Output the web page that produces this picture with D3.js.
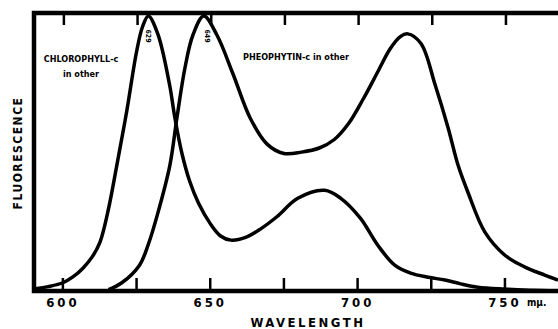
<!DOCTYPE html>
<html>
<head>
<meta charset="utf-8">
<script src="https://cdn.jsdelivr.net/npm/d3@7"></script>
<style>
  html, body { margin: 0; padding: 0; background: #fff; }
  svg text { font-family: "DejaVu Sans Condensed", "DejaVu Sans", sans-serif; font-weight: bold; fill: #000; }
</style>
</head>
<body>
<div class="chart"></div>
<script>
// wavelength (nm) and relative fluorescence
const chloroWl  = [590.5, 595, 600, 603.5, 606.8, 610, 612.6, 615.5, 618.3, 621.7, 625, 627, 629, 632.2, 636.2, 638, 640.4, 643, 646, 650, 653.5, 657, 662, 667, 672.6, 679.7, 688.8, 694.3, 701, 706.8, 712.6, 718, 724, 729.6, 735, 740.8, 750, 758, 768];
const chloroVal = [0.008, 0.016, 0.03, 0.052, 0.083, 0.125, 0.178, 0.3, 0.457, 0.656, 0.87, 0.96, 1.0, 0.935, 0.75, 0.63, 0.5, 0.4, 0.32, 0.245, 0.2, 0.185, 0.195, 0.225, 0.27, 0.337, 0.366, 0.337, 0.264, 0.167, 0.094, 0.065, 0.05, 0.04, 0.026, 0.014, 0.007, 0.003, 0.0];

const pheoWl  = [615.5, 620, 626, 629, 632, 636.3, 638.7, 641.4, 644.1, 647.8, 652.3, 657.7, 663.5, 669.2, 675, 681, 687, 692, 697, 702, 707, 711, 714.5, 717, 721.5, 726.3, 730.7, 734.1, 737.4, 743.2, 750, 756.8, 763.5, 768];
const pheoVal = [0.005, 0.03, 0.094, 0.17, 0.275, 0.457, 0.63, 0.81, 0.93, 1.0, 0.93, 0.79, 0.63, 0.535, 0.5, 0.505, 0.52, 0.55, 0.61, 0.7, 0.8, 0.88, 0.925, 0.935, 0.9, 0.75, 0.594, 0.457, 0.36, 0.214, 0.13, 0.087, 0.058, 0.04];

const tickWl = [600, 625, 650, 675, 700, 725, 750];
const tickLabels = {600: "600", 650: "650", 700: "700", 750: "750"};

const width = 558, height = 329;
const margin = {top: 13, right: 0, bottom: 38, left: 34};

const svg = d3.select(".chart")
  .append("svg")
    .attr("width", width)
    .attr("height", height);

const x = d3.scaleLinear()
    .domain([590.2, 768])
    .range([margin.left, width - margin.right]);

const y = d3.scaleLinear()
    .domain([0, 1])
    .range([height - margin.bottom, 16]);

const y0 = height - margin.bottom;

// frame: left, top and bottom (right is cut off)
svg.append("path")
    .attr("d", `M${width},${margin.top}H${margin.left}V${y0}H${width}`)
    .attr("fill", "none")
    .attr("stroke", "#000")
    .attr("stroke-width", 4.5);

// ticks
svg.selectAll(".btick")
  .data(tickWl)
  .enter()
  .append("line")
    .attr("class", "btick")
    .attr("x1", d => x(d)).attr("x2", d => x(d))
    .attr("y1", y0).attr("y2", y0 - 13)
    .attr("stroke", "#000").attr("stroke-width", 2.5);

svg.selectAll(".ttick")
  .data(tickWl)
  .enter()
  .append("line")
    .attr("class", "ttick")
    .attr("x1", d => x(d) + 1).attr("x2", d => x(d) + 1)
    .attr("y1", margin.top).attr("y2", margin.top + 12)
    .attr("stroke", "#000").attr("stroke-width", 2.5);

svg.selectAll(".tlabel")
  .data(tickWl.filter(d => tickLabels[d]))
  .enter()
  .append("text")
    .attr("class", "tlabel")
    .attr("x", d => x(d))
    .attr("y", 307)
    .attr("text-anchor", "middle")
    .style("font-size", "13px")
    .style("letter-spacing", "3px")
    .text(d => tickLabels[d]);

svg.append("text")
    .attr("x", x(750) + 22)
    .attr("y", 306)
    .style("font-size", "10px")
    .text("mμ.");

// axis titles
svg.append("text")
    .attr("x", 308)
    .attr("y", 327)
    .attr("text-anchor", "middle")
    .style("font-size", "13px")
    .style("letter-spacing", "2.5px")
    .text("WAVELENGTH");

svg.append("text")
    .attr("transform", "translate(22,153) rotate(-90)")
    .attr("text-anchor", "middle")
    .style("font-size", "12px")
    .style("letter-spacing", "1.5px")
    .text("FLUORESCENCE");

// curves
const line = d3.line()
    .x(d => x(d[0]))
    .y(d => y(d[1]))
    .curve(d3.curveCatmullRom.alpha(0.5));

svg.append("path")
    .datum(d3.zip(chloroWl, chloroVal))
    .attr("fill", "none")
    .attr("stroke", "#000")
    .attr("stroke-width", 3.5)
    .attr("stroke-linejoin", "round")
    .attr("d", line);

svg.append("path")
    .datum(d3.zip(pheoWl, pheoVal))
    .attr("fill", "none")
    .attr("stroke", "#000")
    .attr("stroke-width", 3.5)
    .attr("stroke-linejoin", "round")
    .attr("d", line);

// annotations
svg.append("text")
    .attr("x", 81).attr("y", 62)
    .attr("text-anchor", "middle")
    .style("font-size", "9px")
    .text("CHLOROPHYLL-c");

svg.append("text")
    .attr("x", 81).attr("y", 77)
    .attr("text-anchor", "middle")
    .style("font-size", "9px")
    .text("in other");

svg.append("text")
    .attr("x", 243).attr("y", 60)
    .style("font-size", "9px")
    .text("PHEOPHYTIN-c in other");

svg.append("text")
    .attr("transform", `translate(${x(629) - 2},36) rotate(90)`)
    .attr("text-anchor", "middle")
    .style("font-size", "7px")
    .text("629");

svg.append("text")
    .attr("transform", `translate(${x(649) - 2},36) rotate(90)`)
    .attr("text-anchor", "middle")
    .style("font-size", "7px")
    .text("649");
</script>
</body>
</html>
